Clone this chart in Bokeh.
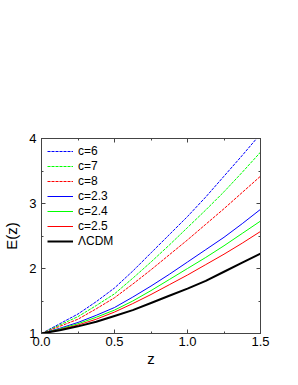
from bokeh.plotting import figure
from bokeh.models import LinearAxis, Range1d, Legend, LegendItem, SingleIntervalTicker, CustomJSTickFormatter
from bokeh.embed import file_html
from bokeh.resources import INLINE

z = [0.0, 0.125, 0.25, 0.375, 0.5, 0.625, 0.75, 0.875, 1.0, 1.125, 1.25, 1.375, 1.5]
E_c6 = [1.0, 1.15, 1.30, 1.49, 1.70, 1.96, 2.24, 2.52, 2.80, 3.10, 3.42, 3.74, 4.07]
E_c7 = [1.0, 1.13, 1.26, 1.43, 1.61, 1.85, 2.10, 2.36, 2.63, 2.90, 3.18, 3.48, 3.79]
E_c8 = [1.0, 1.11, 1.22, 1.38, 1.55, 1.76, 1.98, 2.21, 2.44, 2.68, 2.92, 3.17, 3.42]
E_c23 = [1.0, 1.08, 1.17, 1.28, 1.40, 1.56, 1.73, 1.91, 2.10, 2.29, 2.48, 2.69, 2.91]
E_c24 = [1.0, 1.07, 1.15, 1.25, 1.36, 1.50, 1.66, 1.83, 2.00, 2.17, 2.35, 2.54, 2.73]
E_c25 = [1.0, 1.06, 1.13, 1.22, 1.33, 1.46, 1.60, 1.75, 1.90, 2.06, 2.22, 2.39, 2.57]
E_lcdm = [1.0, 1.05, 1.11, 1.18, 1.27, 1.36, 1.47, 1.58, 1.69, 1.81, 1.95, 2.09, 2.23]

labels = ["c=6", "c=7", "c=8", "c=2.3", "c=2.4", "c=2.5", "\u039bCDM"]
x_tick_step = 0.5
y_tick_step = 1

FONT = "Liberation Sans"
AX = "#444444"

p = figure(width=282, height=369, output_backend="svg", toolbar_location=None,
           x_range=Range1d(0, 1.5), y_range=Range1d(1, 4),
           min_border_left=37, min_border_right=22, min_border_top=138, min_border_bottom=36,
           x_axis_label="z", y_axis_label="E(z)")
p.grid.visible = False
p.outline_line_color = AX
p.outline_line_width = 1

def style(ax):
    ax.axis_line_color = AX
    ax.axis_line_width = 1
    ax.major_tick_line_color = AX
    ax.minor_tick_line_color = AX
    ax.major_tick_in = 4
    ax.major_tick_out = 0
    ax.minor_tick_in = 2
    ax.minor_tick_out = 0
    ax.major_label_text_font = FONT
    ax.major_label_text_font_size = "13px"
    ax.major_label_text_color = "black"
    ax.axis_label_text_font = FONT
    ax.axis_label_text_font_size = "15px"
    ax.axis_label_text_font_style = "normal"
    ax.axis_label_text_color = "black"

p.xaxis.ticker = SingleIntervalTicker(interval=x_tick_step, num_minor_ticks=2)
p.yaxis.ticker = SingleIntervalTicker(interval=y_tick_step, num_minor_ticks=2)
p.xaxis.formatter = CustomJSTickFormatter(code="return tick.toFixed(1);")
for ax in p.xaxis + p.yaxis:
    style(ax)
p.xaxis.major_label_standoff = 3
p.xaxis.axis_label_standoff = 1
p.yaxis.major_label_standoff = 5
p.yaxis.axis_label_standoff = 6

blank = CustomJSTickFormatter(code="return '';")
top = LinearAxis(ticker=SingleIntervalTicker(interval=x_tick_step, num_minor_ticks=2), formatter=blank)
right = LinearAxis(ticker=SingleIntervalTicker(interval=y_tick_step, num_minor_ticks=2), formatter=blank)
for ax in (top, right):
    style(ax)
    ax.major_label_standoff = 0
p.add_layout(top, "above")
p.add_layout(right, "right")

series = [
    (E_c6, "#0000ff", "3 1", 1),
    (E_c7, "#00ff00", "3 1", 1),
    (E_c8, "#ff0000", "3 1", 1),
    (E_c23, "#0000ff", "solid", 1),
    (E_c24, "#00ff00", "solid", 1),
    (E_c25, "#ff0000", "solid", 1),
    (E_lcdm, "#000000", "solid", 2),
]
items = []
for (vals, col, dash, w), lab in zip(series, labels):
    r = p.line(z, vals, line_color=col, line_dash=dash, line_width=w)
    items.append(LegendItem(label=lab, renderers=[r]))

leg = Legend(items=items, location="top_left")
leg.border_line_color = None
leg.background_fill_alpha = 0
leg.margin = 6
leg.padding = 0
leg.spacing = 1
leg.glyph_width = 26
leg.glyph_height = 14
leg.label_height = 14
leg.label_standoff = 5
leg.label_text_font = FONT
leg.label_text_font_size = "12px"
leg.label_text_color = "black"
p.add_layout(leg, "center")

open("out.html", "w").write(file_html(p, INLINE))
